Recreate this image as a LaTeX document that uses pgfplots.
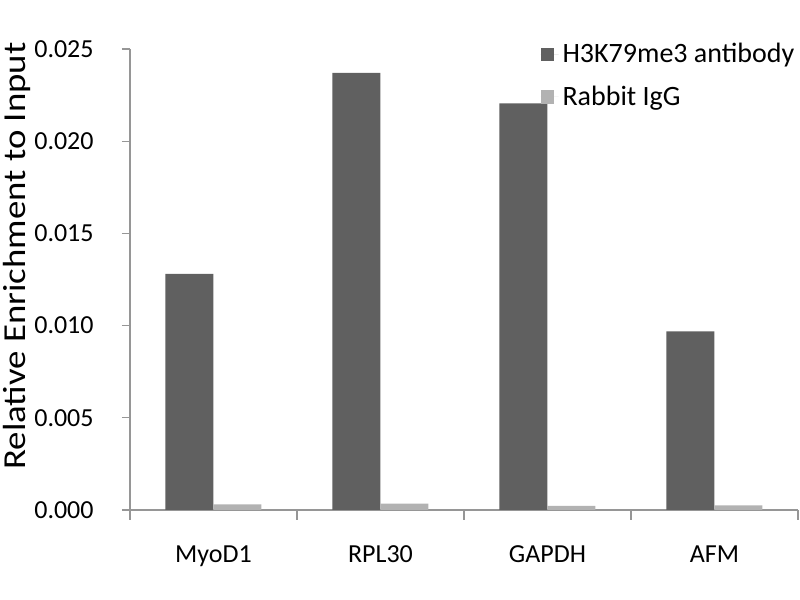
\documentclass[border=0pt]{standalone}
\usepackage{graphicx}
\usepackage{pgfplots}
\pgfplotsset{compat=1.18}
\usepackage{fontspec}
\setmainfont{Carlito}
\definecolor{darkbar}{RGB}{96,96,96}
\definecolor{lightbar}{RGB}{178,178,178}
\definecolor{axgray}{RGB}{150,150,150}
\begin{document}
\begin{tikzpicture}
\useasboundingbox (-65pt,-45pt) rectangle (335pt,255pt);
\begin{axis}[
  at={(0pt,0pt)}, anchor=south west,
  scale only axis,
  width=334pt, height=230.5pt,
  xmin=-0.5, xmax=3.5,
  ymin=0, ymax=0.025,
  ybar=0pt, bar width=24pt,
  axis x line=bottom, axis y line=left,
  axis line style={-, draw=axgray, line width=0.6pt},
  xtick={0,1,2,3},
  xticklabels={MyoD1, RPL30, GAPDH, AFM},
  major x tick style={draw=none},
  minor xtick={-0.5,0.5,1.5,2.5,3.5},
  minor x tick style={draw=axgray, line width=0.6pt},
  minor tick length=5pt,
  ytick={0,0.005,0.010,0.015,0.020,0.025},
  y tick style={draw=axgray, line width=0.6pt},
  major tick length=4pt,
  tick align=outside,
  scaled y ticks=false,
  yticklabel style={/pgf/number format/fixed, /pgf/number format/fixed zerofill, /pgf/number format/precision=3, /pgf/number format/assume math mode=true,
    font=\fontsize{13}{15}\selectfont, anchor=east, inner sep=0pt, xshift=-14pt},
  xticklabel style={font=\fontsize{13}{15}\selectfont, anchor=base, inner sep=0pt, yshift=-22.5pt},
  ylabel={\scalebox{1.15}[1]{Relative Enrichment to Input}},
  every axis y label/.style={at={(axis description cs:-0.157,0.551)}, rotate=90, anchor=base, inner sep=0pt, font=\fontsize{16}{18}\selectfont},
  legend style={draw=none, fill=none, at={(axis description cs:0.614,1.022)}, anchor=north west,
    font=\fontsize{14}{16}\selectfont, row sep=6pt, inner sep=0pt, legend cell align=left},
  legend image code/.code={\fill[#1,draw=none] (0pt,-3.3pt) rectangle (6.6pt,3.3pt); \path (0pt,0pt) -- (9pt,0pt);},
]
\addplot[fill=darkbar, draw=none] coordinates {(0,0.01281) (1,0.0237) (2,0.02205) (3,0.00969)};
\addplot[fill=lightbar, draw=none] coordinates {(0,0.00030) (1,0.00035) (2,0.00022) (3,0.00025)};
\legend{H3K79me3 antibody, Rabbit IgG}
\end{axis}
\end{tikzpicture}
\end{document}
